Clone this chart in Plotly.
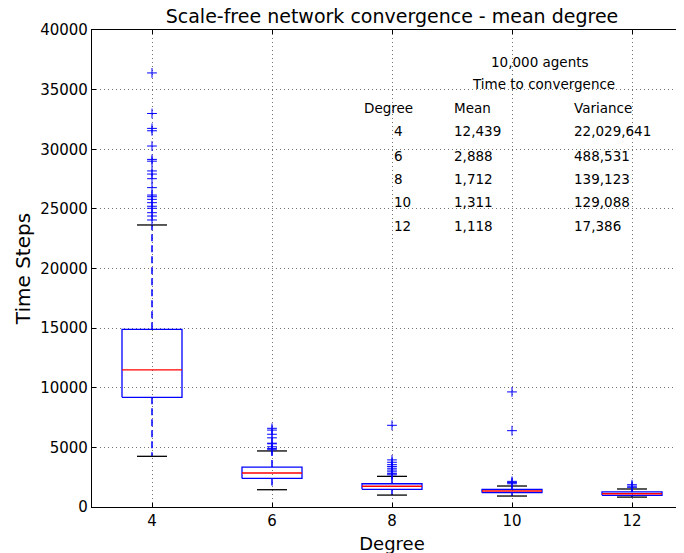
import plotly.graph_objects as go

degrees = [4, 6, 8, 10, 12]
q1 = [9200, 2400, 1480, 1200, 980]
medians = [11500, 2850, 1740, 1340, 1110]
q3 = [14900, 3350, 1950, 1480, 1260]
whisker_low = [4250, 1450, 1000, 920, 830]
whisker_high = [23650, 4700, 2570, 1760, 1510]

outliers = {
    4: [36400, 33000, 31750, 31550, 30270, 29150, 29000, 28180, 27920, 27530,
        26780, 26160, 26020, 25800, 25520, 25220, 25050, 24680, 24400, 24070],
    6: [6600, 6450, 6100, 5800, 5350, 5300, 5050, 4900, 4800],
    8: [6850, 3950, 3750, 3550, 3400, 3250, 3100, 2950, 2800, 2700],
    10: [9650, 6400, 2150, 2050, 1950],
    12: [1870, 1750, 1650],
}

table_header = ["Degree", "Mean", "Variance"]
table_degree = ["4", "6", "8", "10", "12"]
table_mean = ["12,439", "2,888", "1,712", "1,311", "1,118"]
table_var = ["22,029,641", "488,531", "139,123", "129,088", "17,386"]

FONT = "DejaVu Sans"
BOX_W = 1.0
CAP_W = 0.5
LW = 1.3

fig = go.Figure()

# boxes
bx, by = [], []
for d, a, b in zip(degrees, q1, q3):
    l, r = d - BOX_W / 2, d + BOX_W / 2
    bx += [l, r, r, l, l, None]
    by += [a, a, b, b, a, None]
fig.add_trace(go.Scatter(x=bx, y=by, mode="lines",
                         line=dict(color="blue", width=LW),
                         showlegend=False, hoverinfo="skip"))

# whiskers
wx, wy = [], []
for d, a, b, lo, hi in zip(degrees, q1, q3, whisker_low, whisker_high):
    wx += [d, d, None, d, d, None]
    wy += [b, hi, None, a, lo, None]
fig.add_trace(go.Scatter(x=wx, y=wy, mode="lines",
                         line=dict(color="blue", width=1.5, dash="7px,4px"),
                         showlegend=False, hoverinfo="skip"))

# caps
cx, cy = [], []
for d, lo, hi in zip(degrees, whisker_low, whisker_high):
    cx += [d - CAP_W / 2, d + CAP_W / 2, None, d - CAP_W / 2, d + CAP_W / 2, None]
    cy += [hi, hi, None, lo, lo, None]
fig.add_trace(go.Scatter(x=cx, y=cy, mode="lines",
                         line=dict(color="black", width=LW),
                         showlegend=False, hoverinfo="skip"))

# medians
mx, my = [], []
for d, m in zip(degrees, medians):
    mx += [d - BOX_W / 2, d + BOX_W / 2, None]
    my += [m, m, None]
fig.add_trace(go.Scatter(x=mx, y=my, mode="lines",
                         line=dict(color="red", width=LW),
                         showlegend=False, hoverinfo="skip"))

# outliers
ox, oy = [], []
for d in degrees:
    for v in outliers[d]:
        ox.append(d)
        oy.append(v)
fig.add_trace(go.Scatter(x=ox, y=oy, mode="markers",
                         marker=dict(symbol="cross-thin", size=7,
                                     line=dict(color="blue", width=1)),
                         showlegend=False, hoverinfo="skip"))

# table annotations (data coordinates)
ann = []
def txt(x, y, s, anchor="left"):
    ann.append(dict(x=x, y=y, xref="x", yref="y", text=s, showarrow=False,
                    xanchor=anchor, yanchor="middle",
                    font=dict(family=FONT, size=13.5, color="black")))

txt(10.47, 37350, "10,000 agents", "center")
txt(10.52, 35440, "Time to convergence", "center")
row_y = [33430, 31520, 29460, 27500, 25540, 23550]
txt(7.5, row_y[0], table_header[0])
txt(9.0, row_y[0], table_header[1])
txt(11.0, row_y[0], table_header[2])
for i in range(5):
    txt(8.0, row_y[i + 1], table_degree[i])
    txt(9.0, row_y[i + 1], table_mean[i])
    txt(11.0, row_y[i + 1], table_var[i])

GRID = "rgba(0,0,0,0.55)"

fig.update_layout(
    width=684, height=553,
    margin=dict(l=84, r=0, t=22, b=54),
    paper_bgcolor="white", plot_bgcolor="white",
    font=dict(family=FONT, size=15, color="black"),
    title=dict(text="Scale-free network convergence - mean degree",
               x=384 / 684, xanchor="center", y=1 - 2 / 553, yanchor="top",
               pad=dict(t=0, b=0),
               font=dict(family=FONT, size=19, color="black")),
    annotations=ann,
    xaxis=dict(range=[3, 13], tickvals=degrees,
               ticktext=[str(d) for d in degrees],
               showgrid=True, gridcolor=GRID, griddash="1px,3px", gridwidth=1,
               showline=True, linecolor="black", linewidth=1.3, mirror="allticks",
               ticks="inside", ticklen=4, tickcolor="black",
               zeroline=False,
               title=dict(text="Degree", font=dict(family=FONT, size=18), standoff=8),
               tickfont=dict(family=FONT, size=15)),
    yaxis=dict(range=[0, 40000], tickvals=list(range(0, 40001, 5000)),
               ticktext=[str(v) for v in range(0, 40001, 5000)],
               showgrid=True, gridcolor=GRID, griddash="1px,3px", gridwidth=1,
               showline=True, linecolor="black", linewidth=1.3, mirror="allticks",
               ticks="inside", ticklen=4, tickcolor="black",
               zeroline=False,
               title=dict(text="Time Steps", font=dict(family=FONT, size=20), standoff=4),
               tickfont=dict(family=FONT, size=15)),
)

fig.write_html("out.html")
